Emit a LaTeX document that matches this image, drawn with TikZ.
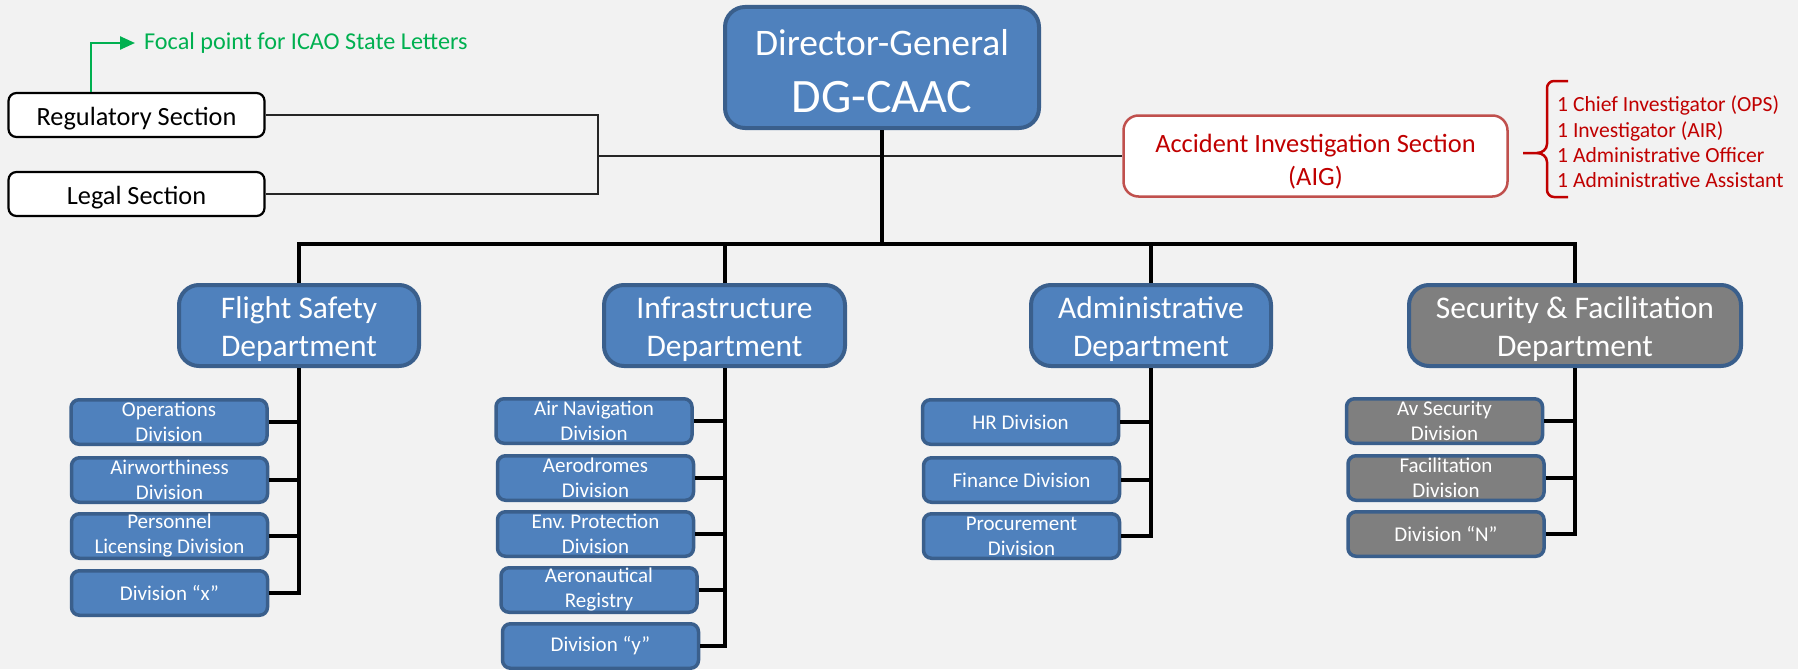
\documentclass[tikz,border=0pt]{standalone}
\usepackage{fontspec}
\setmainfont{Carlito}
\usetikzlibrary{arrows.meta}
\definecolor{bg}{HTML}{F2F2F2}
\definecolor{blu}{HTML}{4F81BD}
\definecolor{bord}{HTML}{3A5F8C}
\definecolor{gry}{HTML}{7F7F7F}
\definecolor{aigred}{HTML}{C0504D}
\definecolor{txtred}{HTML}{C00000}
\definecolor{grn}{HTML}{00B050}
\frenchspacing
\tikzset{
  bluebox/.style={draw=bord, fill=blu, line width=4pt, rounded corners=20pt, text=white, align=flush center, inner sep=0pt},
  dept/.style={bluebox, minimum height=81pt, font=\fontsize{31.5}{38}\selectfont},
  graydept/.style={dept, fill=gry},
  divbox/.style={draw=bord, fill=blu, line width=3.5pt, rounded corners=8pt, text=white, align=flush center, inner sep=0pt, minimum height=44.5pt, text width=196pt, font=\fontsize{21}{25}\selectfont},
  graydiv/.style={divbox, fill=gry},
  sect/.style={draw=black, fill=white, line width=2.2pt, rounded corners=8pt, minimum width=256pt, minimum height=44pt, inner sep=0pt, font=\fontsize{26.3}{30}\selectfont},
  aigbox/.style={draw=aigred, fill=white, line width=2.5pt, rounded corners=15pt, minimum width=384pt, minimum height=81pt, inner sep=0pt, align=flush center, text=txtred, font=\fontsize{26.4}{33}\selectfont},
  thinline/.style={line width=2pt, draw=black!85},
  bar/.style={line width=4pt, draw=black},
  greenarrow/.style={draw=grn, line width=2.5pt, -{Triangle[length=15pt,width=13pt]}},
  bracestyle/.style={draw=txtred, line width=2.5pt},
}
\newcommand{\pushdown}[1]{\rule{0pt}{#1}}
\begin{document}
\begin{tikzpicture}[x=1pt,y=-1pt]
\fill[bg] (0,0) rectangle (1798,669);
\useasboundingbox (0,0) rectangle (1798,669);

% top left sections
\node[sect] (reg) at (136.5,115) {\pushdown{25pt}Regulatory Section};
\node[sect] (legal) at (136.5,194) {\pushdown{25pt}Legal Section};
\node[anchor=west, inner xsep=9pt, inner ysep=0pt, text=grn, font=\fontsize{24.2}{29}\selectfont] (focal) at (135,43) {Focal point for ICAO State Letters};
\draw[greenarrow] ([xshift=-45.5pt]reg.north) |- (focal.west);

% director general
\node[bluebox, minimum width=314pt, minimum height=121pt] (dg) at (882,67.5)
  {\fontsize{37.5}{44}\selectfont\pushdown{33pt}Director-General\\[25pt]\fontsize{48}{50}\selectfont DG-CAAC};

% AIG
\node[aigbox] (aig) at (1315.5,156) {\pushdown{29pt}Accident Investigation Section\\(AIG)};
\coordinate (j) at (598,156);
\draw[thinline] (reg.east) -| (j) |- (legal.east);
\draw[thinline] (j) -- (aig.west);

% brace and staff list
\node[anchor=west, inner sep=0pt, align=left, text=txtred, font=\fontsize{21.6}{25.3}\selectfont] (staff) at (1557,142)
  {1 Chief Investigator (OPS)\\1 Investigator (AIR)\\1 Administrative Officer\\1 Administrative Assistant};
\draw[bracestyle] (1568,81) -- (1554,81) to[out=180,in=90] (1547,88) -- (1547,144)
  to[out=-90,in=0] (1537,153) -- (1523,153);
\draw[bracestyle] (1537,153) to[out=0,in=90] (1547,162) -- (1547,190)
  to[out=-90,in=180] (1554,197) -- (1568,197);

% departments
\node[dept, minimum width=240pt] (fs) at (299,325.5) {\pushdown{30pt}Flight Safety\\Department};
\node[dept, minimum width=241pt] (inf) at (724.5,325.5) {\pushdown{30pt}Infrastructure\\Department};
\node[dept, minimum width=240pt] (adm) at (1151,325.5) {\pushdown{30pt}Administrative\\Department};
\node[graydept, minimum width=332pt] (sec) at (1575,325.5) {\pushdown{30pt}Security \& Facilitation\\Department};

\coordinate (bus) at (882,244);
\draw[bar] (dg.south) -- (dg.south |- bus);
\draw[bar] (fs.north) |- (sec.north |- bus) -- (sec.north);
\draw[bar] (inf.north) -- (inf.north |- bus);
\draw[bar] (adm.north) -- (adm.north |- bus);

% flight safety divisions
\node[divbox] (ops) at (169,422) {Operations\\Division};
\node[divbox] (airw) at (169.5,480) {Airworthiness\\Division};
\node[divbox] (pel) at (169.5,536) {Personnel\\Licensing Division};
\node[divbox] (divx) at (169.5,593) {Division “x”};
\draw[bar] (fs.south) |- (divx.east);
\foreach \c in {ops,airw,pel} \draw[bar] (\c.east) -- (\c.east -| fs.south);

% infrastructure divisions
\node[divbox] (anav) at (594,421) {Air Navigation\\Division};
\node[divbox] (aero) at (595.5,478) {Aerodromes\\Division};
\node[divbox] (env) at (595.5,534) {Env. Protection\\Division};
\node[divbox] (areg) at (599,590) {Aeronautical\\Registry};
\node[divbox] (divy) at (600.5,646) {Division “y”};
\draw[bar] (inf.south) |- (divy.east);
\foreach \c in {anav,aero,env,areg} \draw[bar] (\c.east) -- (\c.east -| inf.south);

% administrative divisions
\node[divbox] (hr) at (1020.5,422) {HR Division};
\node[divbox] (fin) at (1021.5,480) {Finance Division};
\node[divbox] (proc) at (1021.5,536) {Procurement\\Division};
\draw[bar] (adm.south) |- (proc.east);
\foreach \c in {hr,fin} \draw[bar] (\c.east) -- (\c.east -| adm.south);

% security divisions
\node[graydiv] (avsec) at (1444.5,421) {Av Security\\Division};
\node[graydiv] (facil) at (1446,478) {Facilitation\\Division};
\node[graydiv] (divn) at (1446,534) {Division “N”};
\draw[bar] (sec.south) |- (divn.east);
\foreach \c in {avsec,facil} \draw[bar] (\c.east) -- (\c.east -| sec.south);
\end{tikzpicture}
\end{document}
